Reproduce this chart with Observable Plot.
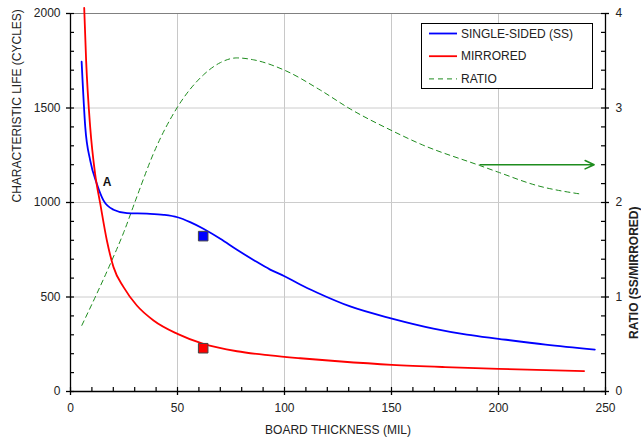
<!DOCTYPE html>
<html>
<head>
<meta charset="utf-8">
<script src="https://cdn.jsdelivr.net/npm/d3@7"></script>
<script src="https://cdn.jsdelivr.net/npm/@observablehq/plot@0.6"></script>
<style>
  body { margin: 0; background: #fff; font-family: "Liberation Sans", Arial, sans-serif; }
  #wrap { position: relative; width: 641px; height: 443px; }
  #legend { position: absolute; left: 421px; top: 23px; width: 172px; height: 66px; border: 1px solid #000; background: #fff; box-sizing: border-box; }
</style>
</head>
<body>
<div id="wrap">
  <div id="chart"></div>
  <div id="legend"></div>
</div>
<script>
// Single-sided (SS) characteristic life
const ssX = [5.2, 6.9, 9.2, 12.3, 15.4, 20.1, 26.4, 35.7, 43.5, 50, 55.9, 62.1, 70, 77.8, 85.5, 93.3, 100, 107.3, 115.1, 130.7, 150.2, 169.6, 185.2, 200, 222, 245];
const ssY = [1745, 1399, 1223, 1099, 1011, 962, 944, 941, 935, 922, 896, 861, 808, 750, 696, 645, 610, 566, 524, 450, 386, 333, 301, 279, 248, 222];
// Mirrored characteristic life
const mX = [6.4, 7.3, 9.2, 11.5, 13.9, 17, 20.1, 24.8, 31, 38.8, 50, 62.1, 77.8, 93.3, 107.3, 125, 150.2, 175, 200, 240];
const mY = [2030, 1752, 1399, 1152, 994, 799, 658, 552, 455, 376, 305, 252, 213, 191, 176, 160, 141, 129, 120, 108];
// Ratio SS / Mirrored (right axis)
const rX = [5.3, 12.3, 18.6, 24.8, 31, 38.8, 50, 62.1, 70, 77.7, 85.5, 100, 116.7, 130.7, 150.2, 163.4, 191.4, 200, 217.9, 238.2];
const rY = [0.70, 1.035, 1.35, 1.68, 2.06, 2.52, 3.01, 3.35, 3.48, 3.53, 3.51, 3.40, 3.19, 2.99, 2.76, 2.62, 2.39, 2.32, 2.18, 2.09];
// Test points
const ptX = [62, 62];
const ptY = [822, 229];
const ptColor = ["#0000ff", "#ff0000"];
// Annotation
const labelA = {x: 17.1, y: 1106, text: "A"};
const arrowX = [191.4, 244.7];
const arrowRatio = 2.4;
// Axis ticks
const xTicks = [0, 50, 100, 150, 200, 250];
const yTicks = [0, 500, 1000, 1500, 2000];
const ratioTicks = [0, 1, 2, 3, 4];
const ratioScale = 500; // 1 ratio unit = 500 cycles on the shared vertical scale

const ss = ssX.map((x, i) => ({x, y: ssY[i]}));
const mir = mX.map((x, i) => ({x, y: mY[i]}));
const ratio = rX.map((x, i) => ({x, y: rY[i] * ratioScale}));
const pts = ptX.map((x, i) => ({x, y: ptY[i], c: ptColor[i]}));
const xMinor = d3.range(0, 251, 10);
const yMinor = d3.range(0, 2001, 100);

const green = "#1e8c1e";

const chart = Plot.plot({
  width: 641,
  height: 443,
  marginLeft: 70,
  marginRight: 36,
  marginTop: 13,
  marginBottom: 52,
  style: {fontFamily: "'Liberation Sans', Arial, sans-serif", fontSize: "12px", color: "#222", background: "#fff"},
  x: {domain: [0, 250]},
  y: {domain: [0, 2000]},
  marks: [
    Plot.ruleX([50, 100, 150, 200], {stroke: "#c8c8c8"}),
    Plot.ruleY([500, 1000, 1500], {stroke: "#cccccc"}),
    Plot.ruleY([2000], {stroke: "#808080", strokeWidth: 1.2}),
    Plot.line(ratio, {x: "x", y: "y", stroke: green, strokeWidth: 1, strokeDasharray: "5,4", curve: "monotone-x"}),
    Plot.line(ss, {x: "x", y: "y", stroke: "#0000ff", strokeWidth: 1.8, curve: "monotone-x"}),
    Plot.line(mir, {x: "x", y: "y", stroke: "#ff0000", strokeWidth: 1.8, curve: "monotone-x"}),
    Plot.dot(pts, {x: "x", y: "y", fill: "c", symbol: "square", r: 5.4, stroke: "#444", strokeWidth: 1}),
    Plot.arrow([0], {x1: () => arrowX[0], x2: () => arrowX[1], y1: () => arrowRatio * ratioScale, y2: () => arrowRatio * ratioScale, stroke: green, strokeWidth: 1.5, headLength: 10, headAngle: 50}),
    Plot.text([labelA], {x: "x", y: "y", text: "text", fontWeight: "bold", fontSize: 12, fill: "#111"}),
    // axes lines
    Plot.ruleX([0], {stroke: "#000", strokeWidth: 1.3}),
    Plot.ruleX([250], {stroke: "#000", strokeWidth: 1.3}),
    Plot.ruleY([0], {stroke: "#000", strokeWidth: 1.3}),
    // inward minor ticks
    Plot.tickX(xMinor, {x: d => d, insetTop: 374, stroke: "#000", strokeWidth: 1.2}),
    Plot.tickY(yMinor, {y: d => d, insetRight: 531, stroke: "#000", strokeWidth: 1.2}),
    Plot.tickY(yMinor, {y: d => d, insetLeft: 531, stroke: "#000", strokeWidth: 1.2}),
    // outward major ticks
    Plot.tickX(xTicks, {x: d => d, insetTop: 378, insetBottom: -4, stroke: "#000", strokeWidth: 1.3}),
    Plot.tickY(yTicks, {y: d => d, insetRight: 535, insetLeft: -4, stroke: "#000", strokeWidth: 1.3}),
    Plot.tickY(yTicks, {y: d => d, insetLeft: 535, insetRight: -4, stroke: "#000", strokeWidth: 1.3}),
    // labels
    Plot.axisX({ticks: xTicks, tickSize: 0, tickPadding: 12, label: null}),
    Plot.axisY({anchor: "left", ticks: yTicks, tickFormat: d => String(d), tickSize: 0, tickPadding: 10, label: null}),
    Plot.axisY({anchor: "right", ticks: ratioTicks.map(r => r * ratioScale), tickFormat: d => String(d / ratioScale), tickSize: 0, tickPadding: 10, label: null}),
    Plot.text(["CHARACTERISTIC LIFE (CYCLES)"], {frameAnchor: "left", dx: -53, rotate: -90, text: d => d, fontSize: 12, fill: "#222"}),
    Plot.text(["RATIO (SS/MIRRORED)"], {frameAnchor: "right", dx: 29, dy: 4, rotate: -90, text: d => d, fontSize: 12, fontWeight: "bold", fill: "#222"}),
    Plot.text(["BOARD THICKNESS (MIL)"], {frameAnchor: "bottom", dy: 42, text: d => d, fontSize: 12, fill: "#222"})
  ]
});
document.getElementById("chart").appendChild(chart);

// Legend
const legendItems = [
  {label: "SINGLE-SIDED (SS)", color: "#0000ff", dash: null, w: 1.8},
  {label: "MIRRORED", color: "#ff0000", dash: null, w: 1.8},
  {label: "RATIO", color: green, dash: "5,4", w: 1}
];
const lg = d3.select("#legend").append("svg").attr("width", 170).attr("height", 64);
legendItems.forEach((d, i) => {
  const yy = 9.5 + i * 22.7;
  lg.append("line").attr("x1", 7).attr("x2", 35).attr("y1", yy).attr("y2", yy)
    .attr("stroke", d.color).attr("stroke-width", d.w).attr("stroke-dasharray", d.dash);
  lg.append("text").attr("x", 39).attr("y", yy).attr("dy", "0.35em")
    .attr("font-size", 12).attr("fill", "#222")
    .attr("font-family", "'Liberation Sans', Arial, sans-serif").text(d.label);
});
</script>
</body>
</html>
